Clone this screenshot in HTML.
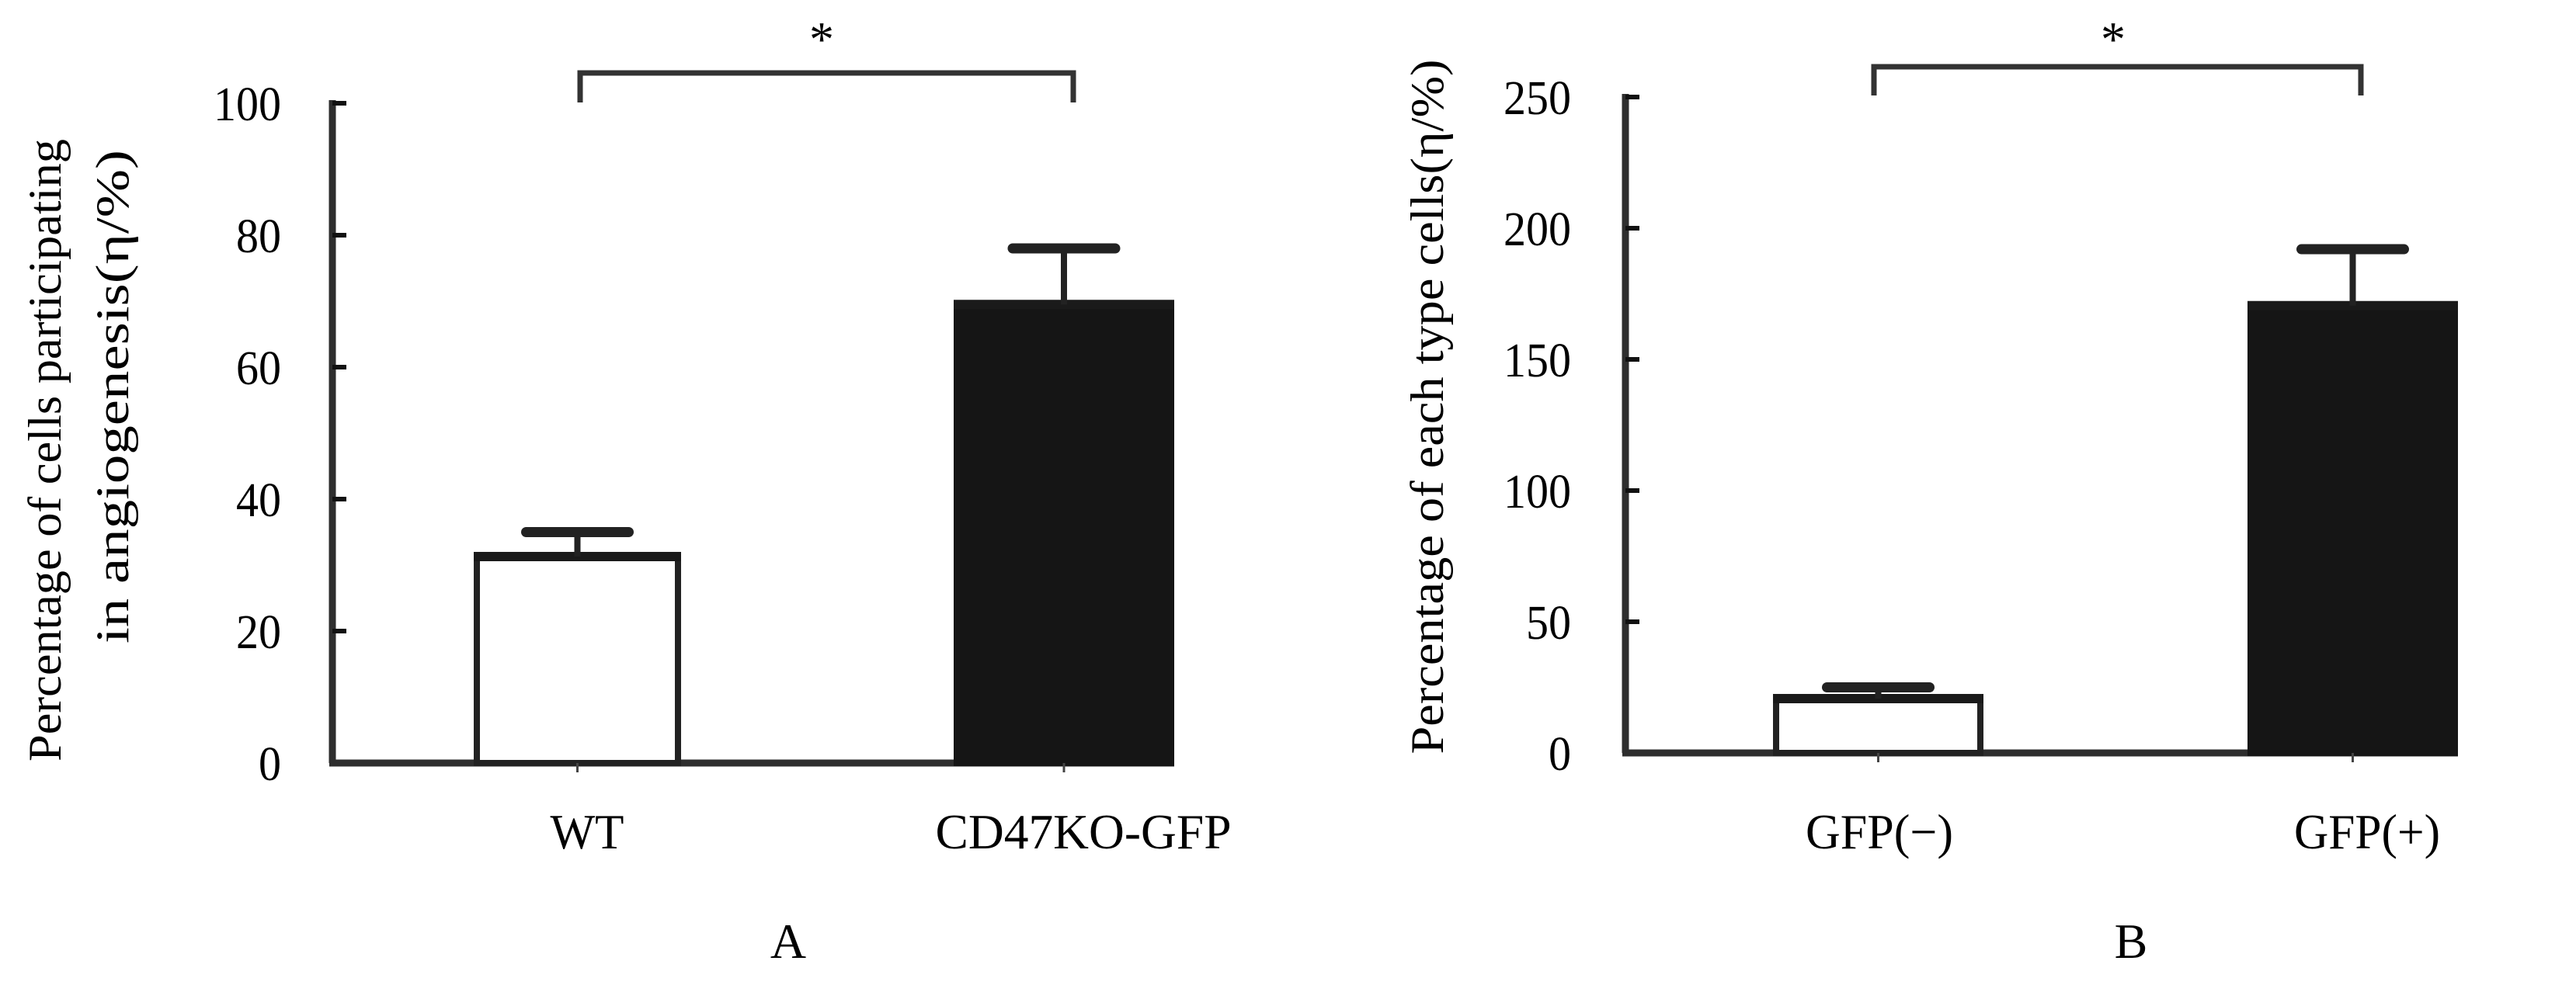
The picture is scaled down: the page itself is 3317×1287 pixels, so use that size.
<!DOCTYPE html>
<html><head><meta charset="utf-8">
<style>
html,body{margin:0;padding:0;background:#fff;}
svg{display:block;font-family:"Liberation Serif",serif;}
</style></head>
<body>
<svg id="fig" width="3317" height="1287" viewBox="0 0 3317 1287" xmlns="http://www.w3.org/2000/svg">
<rect width="3317" height="1287" fill="#fff"/>
<g id="panelA"></g>
<g id="panelB"></g>
</svg>
<script>
// Panel A data
const catsA = ["WT", "CD47KO-GFP"];
const valsA = [31.3, 69.5];
const errsA = [35, 78];
const ticksA = [0, 20, 40, 60, 80, 100];
// Panel B data
const catsB = ["GFP(\u2212)", "GFP(+)"];
const valsB = [20.7, 170.5];
const errsB = [25, 192];
const ticksB = [0, 50, 100, 150, 200, 250];

const NS = "http://www.w3.org/2000/svg";
function mk(parent, tag, attrs, text) {
  const e = document.createElementNS(NS, tag);
  for (const k in attrs) e.setAttribute(k, attrs[k]);
  if (text !== undefined) e.textContent = text;
  parent.appendChild(e);
  return e;
}

function drawPanel(g, cfg, cats, vals, errs, ticks) {
  const y = v => cfg.y0 - (v - ticks[0]) / (ticks[ticks.length - 1] - ticks[0]) * (cfg.y0 - cfg.yTop);
  const col = "#2e2e2e";
  // y axis
  const ya = mk(g, "line", {x1: cfg.ax, y1: y(ticks[ticks.length-1]) - 4, x2: cfg.ax, y2: cfg.y0, stroke: col, "stroke-width": 9});
  
  
  ticks.forEach(t => {
    const tk = mk(g, "line", {x1: cfg.ax, y1: y(t), x2: cfg.ax + 18, y2: y(t), stroke: "#111", "stroke-width": 6});
    
    
    const s = String(t);
    const tl = mk(g, "text", {x: cfg.tickRight, y: y(t) + 22, "text-anchor": "end", "font-size": 62, textLength: s.length * 29, lengthAdjust: "spacingAndGlyphs", fill: "#000"}, s);
    
    
  });
  // x axis
  const xa = mk(g, "line", {x1: cfg.ax - 4, y1: cfg.y0, x2: cfg.axEnd, y2: cfg.y0, stroke: col, "stroke-width": 9});
  
  
  cats.forEach((c, i) => {
    const [l, r] = cfg.bars[i];
    const cx = (l + r) / 2;
    const top = y(vals[i]);
    const fill = i === 0 ? "#fff" : "#151515";
    const b = mk(g, "rect", {x: l + 4, y: top, width: r - l - 8, height: cfg.y0 - top, fill: fill, stroke: i === 0 ? "#222" : "#151515", "stroke-width": 8});
    
    
    const tt = mk(g, "line", {x1: l, y1: top, x2: r, y2: top, stroke: "#1a1a1a", "stroke-width": 12});
    
    
    const ey = y(errs[i]);
    const st = mk(g, "line", {x1: cx, y1: top, x2: cx, y2: ey, stroke: "#222", "stroke-width": 8});
    
    
    const cap = mk(g, "line", {x1: cx - cfg.capHalf, y1: ey, x2: cx + cfg.capHalf, y2: ey, stroke: "#222", "stroke-width": 13, "stroke-linecap": "round"});
    
    
    const xt = mk(g, "line", {x1: cx, y1: cfg.y0, x2: cx, y2: cfg.y0 + 12, stroke: "#444", "stroke-width": 3});
    
    
    const lb = mk(g, "text", {x: cfg.labelX[i], y: 1093, "text-anchor": "middle", "font-size": 64, textLength: cfg.labelW[i], lengthAdjust: "spacingAndGlyphs", fill: "#000"}, c);
    
    
  });
  // significance bracket
  const br = mk(g, "path", {d: `M${cfg.br[0]},${cfg.br[3]} V${cfg.br[2]} H${cfg.br[1]} V${cfg.br[3]}`, fill: "none", stroke: "#333", "stroke-width": 7});
  
  
  const star = mk(g, "text", {x: cfg.starX, y: 72, "text-anchor": "middle", "font-size": 64, fill: "#000"}, "*");
  
  
  // y title
  cfg.titles.forEach(tl => {
    const t = mk(g, "text", {x: 0, y: 0, "text-anchor": "middle", "font-size": 60, textLength: tl.len, lengthAdjust: "spacingAndGlyphs", fill: "#000", transform: `translate(${tl.x},${tl.cy}) rotate(-90)`}, tl.text);
    
    
  });
  const pl = mk(g, "text", {x: cfg.panelX, y: 1234, "text-anchor": "middle", "font-size": 64, fill: "#000"}, cfg.panel);
  
  
}

drawPanel(document.getElementById("panelA"), {
  ax: 428, axEnd: 1512, y0: 983, yTop: 133, tickRight: 362,
  bars: [[610, 877], [1228, 1512]], capHalf: 66,
  labelX: [756, 1395], labelW: [95, 381],
  br: [747, 1382, 94, 132], starX: 1058,
  titles: [
    {text: "Percentage of cells participating", x: 78, cy: 580, len: 802},
    {text: "in angiogenesis(\u03B7/%)", x: 165, cy: 511, len: 636}
  ],
  panelX: 1015, panel: "A"
}, catsA, valsA, errsA, ticksA);

drawPanel(document.getElementById("panelB"), {
  ax: 2093, axEnd: 3165, y0: 970, yTop: 125, tickRight: 2023,
  bars: [[2283, 2554], [2894, 3165]], capHalf: 66,
  labelX: [2420, 3048], labelW: [190, 188],
  br: [2413, 3040, 86, 123], starX: 2721,
  titles: [
    {text: "Percentage of each type cells(\u03B7/%)", x: 1858, cy: 524, len: 895}
  ],
  panelX: 2744, panel: "B"
}, catsB, valsB, errsB, ticksB);
</script>
</body></html>
